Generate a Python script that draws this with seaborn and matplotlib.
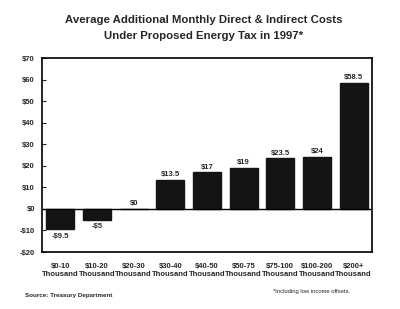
import seaborn as sns
import matplotlib.pyplot as plt
import pandas as pd

# data
brackets = ["$0-10", "$10-20", "$20-30", "$30-40", "$40-50", "$50-75", "$75-100", "$100-200", "$200+"]
costs = [-9.5, -5, 0, 13.5, 17, 19, 23.5, 24, 58.5]
value_labels = ["-$9.5", "-$5", "$0", "$13.5", "$17", "$19", "$23.5", "$24", "$58.5"]
yticks = [-20, -10, 0, 10, 20, 30, 40, 50, 60, 70]

df = pd.DataFrame({"bracket": [b + "\nThousand" for b in brackets], "cost": costs})

sns.set_style("white")
plt.rcParams['font.family'] = ['Liberation Sans', 'DejaVu Sans']

fig = plt.figure(figsize=(4, 3.09), dpi=100)
ax = fig.add_axes([42/400, 1-252/309, 330/400, 194/309])

sns.barplot(data=df, x="bracket", y="cost", color="#141414", width=0.76,
            saturation=1, ax=ax, edgecolor="#141414")

ax.set_ylim(-20, 70)
ax.set_yticks(yticks)
ax.set_yticklabels([("-$%d" % -v) if v < 0 else "$%d" % v for v in yticks],
                   fontsize=5.5, fontweight="bold")
ax.set_xticks(range(len(brackets)))
ax.set_xticklabels(df["bracket"], fontsize=5.5, fontweight="bold", linespacing=1.1)
ax.tick_params(axis="x", length=0, pad=8)
ax.tick_params(axis="y", length=3, width=0.8, direction="in", pad=5, left=True)
ax.set_xlabel("")
ax.set_ylabel("")
ax.axhline(0, color="black", lw=1.0)
for s in ax.spines.values():
    s.set_color("black")
    s.set_linewidth(1.2)

for i, (v, lab) in enumerate(zip(costs, value_labels)):
    if v < 0:
        ax.text(i, v - 1.5, lab, ha="center", va="top", fontsize=5.5, fontweight="bold")
    else:
        ax.text(i, v + 0.8, lab, ha="center", va="bottom", fontsize=5.5, fontweight="bold")

fig.text(0.51, 1-20/309, "Average Additional Monthly Direct & Indirect Costs",
         ha="center", va="center", fontsize=8.2, fontweight="bold")
fig.text(0.51, 1-36/309, "Under Proposed Energy Tax in 1997*",
         ha="center", va="center", fontsize=8.2, fontweight="bold")
fig.text(25/400, 1-296/309, "Source: Treasury Department", fontsize=4.5,
         fontweight="bold", va="center")
fig.text(350/400, 1-292/309, "*Including low income offsets.", fontsize=4.2,
         ha="right", va="center")

fig.savefig("out.png", dpi=100)
